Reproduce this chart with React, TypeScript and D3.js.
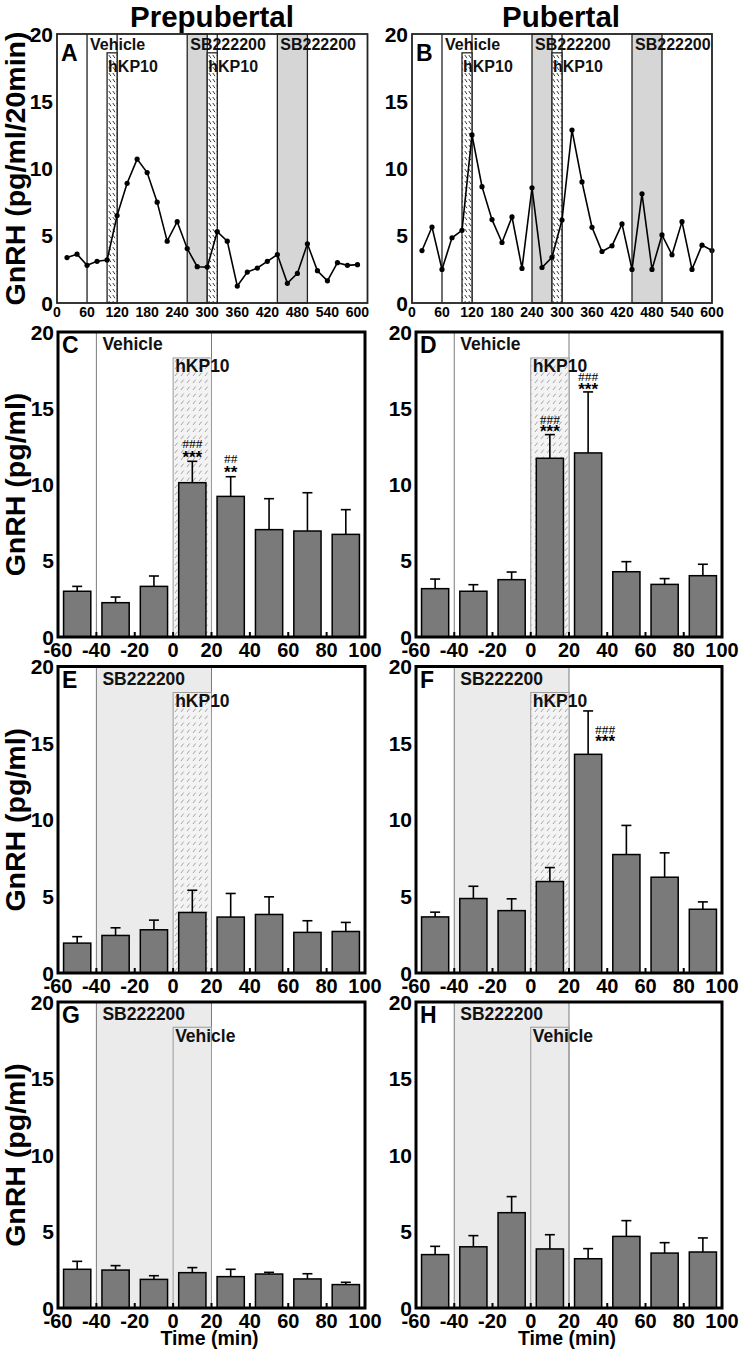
import React from 'react';
import * as d3 from 'd3';

const FONT = '"Liberation Sans", Arial, Helvetica, sans-serif';
const SERIF = '"Liberation Serif", "Times New Roman", serif';

// ---------- Panels A / B: 20-min pulse profiles ----------
const pulseTimes = [20, 40, 60, 80, 100, 120, 140, 160, 180, 200, 220, 240, 260, 280, 300, 320, 340, 360, 380, 400, 420, 440, 460, 480, 500, 520, 540, 560, 580, 600];
const prepubertalPulse = [3.38, 3.63, 2.8, 3.1, 3.2, 6.5, 8.9, 10.7, 9.7, 7.5, 4.6, 6.05, 4.05, 2.7, 2.67, 5.3, 4.6, 1.26, 2.3, 2.6, 3.1, 3.6, 1.46, 2.2, 4.4, 2.4, 1.65, 3.0, 2.8, 2.85];
const pubertalPulse = [3.9, 5.65, 2.5, 4.85, 5.4, 12.5, 8.65, 6.2, 4.5, 6.4, 2.57, 8.57, 2.64, 3.4, 6.17, 12.86, 9.0, 5.63, 3.83, 4.25, 5.88, 2.5, 8.12, 2.5, 5.06, 3.58, 6.05, 2.5, 4.3, 3.9];
const pulseTicks = [0, 60, 120, 180, 240, 300, 360, 420, 480, 540, 600];

const prepubertalShades = [[260, 300], [440, 500]];
const prepubertalHatches = [[100, 120], [300, 320]];
const prepubertalLines = [60, 120, 320];
const prepubertalLabels = [
  { text: 'Vehicle', at: 60, row: 0 },
  { text: 'hKP10', at: 100, row: 1 },
  { text: 'SB222200', at: 260, row: 0 },
  { text: 'hKP10', at: 300, row: 1 },
  { text: 'SB222200', at: 440, row: 0 },
];

const pubertalShades = [[240, 280], [440, 500]];
const pubertalHatches = [[100, 120], [280, 300]];
const pubertalLines = [60, 120, 300];
const pubertalLabels = [
  { text: 'Vehicle', at: 60, row: 0 },
  { text: 'hKP10', at: 100, row: 1 },
  { text: 'SB222200', at: 240, row: 0 },
  { text: 'hKP10', at: 280, row: 1 },
  { text: 'SB222200', at: 440, row: 0 },
];

// ---------- Panels C-H: 20-min bins around treatment ----------
const binCenters = [-50, -30, -10, 10, 30, 50, 70, 90];
const binTicks = [-60, -40, -20, 0, 20, 40, 60, 80, 100];
const innerTicks = [-40, -20, 0, 20, 40, 60, 80];
const yTicks = [0, 5, 10, 15, 20];

const cMean = [3.0, 2.25, 3.32, 10.12, 9.22, 7.04, 6.95, 6.73];
const cTop = [3.32, 2.62, 4.0, 11.52, 10.51, 9.07, 9.46, 8.35];
const dMean = [3.17, 3.0, 3.76, 11.72, 12.07, 4.28, 3.45, 4.02];
const dTop = [3.8, 3.43, 4.26, 13.27, 16.07, 4.94, 3.83, 4.77];
const eMean = [1.95, 2.45, 2.82, 3.95, 3.65, 3.82, 2.65, 2.71];
const eTop = [2.37, 2.95, 3.45, 5.4, 5.19, 4.97, 3.41, 3.3];
const fMean = [3.66, 4.86, 4.07, 5.97, 14.27, 7.73, 6.25, 4.16];
const fTop = [3.97, 5.66, 4.84, 6.88, 17.1, 9.63, 7.84, 4.64];
const gMean = [2.53, 2.48, 1.87, 2.31, 2.05, 2.22, 1.9, 1.53];
const gTop = [3.05, 2.77, 2.11, 2.64, 2.53, 2.33, 2.24, 1.68];
const hMean = [3.49, 4.0, 6.23, 3.86, 3.22, 4.68, 3.59, 3.66];
const hTop = [4.03, 4.73, 7.28, 4.79, 3.88, 5.71, 4.27, 4.58];

const cMarks = [
  { bin: 10, hash: '###', star: '***', hashY: 12.68, starY: 12.02, dx: 0 },
  { bin: 30, hash: '##', star: '**', hashY: 11.67, starY: 11.1, dx: 0 },
];
const dMarks = [
  { bin: 10, hash: '###', star: '***', hashY: 14.25, starY: 13.73, dx: 0 },
  { bin: 30, hash: '###', star: '***', hashY: 17.1, starY: 16.5, dx: 0 },
];
const fMarks = [
  { bin: 30, hash: '###', star: '***', hashY: 15.9, starY: 15.36, dx: 17 },
];

type Region = { kind: 'vehicle' | 'sb'; from: number; to: number; label: string };
type Box = { kind: 'hatch' | 'plain'; from: number; to: number; top: number; label: string };

function PulsePanel(props: any) {
  const { x0, x1, top, bottom, xMax, values, letter, shades, hatches, lines, labels, yTitle } = props;
  const x = d3.scaleLinear().domain([0, xMax]).range([x0, x1]);
  const y = d3.scaleLinear().domain([0, 20]).range([bottom, top]);
  const line = d3.line<number>().x((_, i) => x(pulseTimes[i])).y((v) => y(v));
  return (
    <g>
      <rect x={x0} y={top} width={x1 - x0} height={bottom - top} fill="#fff" />
      {shades.map((s: number[], i: number) => (
        <rect key={'s' + i} x={x(s[0])} y={top} width={x(s[1]) - x(s[0])} height={bottom - top} fill="#d6d6d6" stroke="#222" strokeWidth={1.3} />
      ))}
      {lines.map((l: number, i: number) => (
        <line key={'l' + i} x1={x(l)} x2={x(l)} y1={top} y2={bottom} stroke="#222" strokeWidth={1.3} />
      ))}
      {hatches.map((h: number[], i: number) => (
        <rect key={'h' + i} x={x(h[0])} y={y(18.6)} width={x(h[1]) - x(h[0])} height={bottom - y(18.6)} fill="url(#hatchDark)" stroke="#222" strokeWidth={1.3} />
      ))}
      {labels.map((lb: any, i: number) => (
        <text key={'t' + i} x={x(lb.at) + (lb.row === 0 ? 3 : 1)} y={lb.row === 0 ? top + 16 : top + 38} fontFamily={FONT} fontWeight="bold" fontSize={16} fill="#111">{lb.text}</text>
      ))}
      <path d={line(values) || ''} fill="none" stroke="#000" strokeWidth={1.6} />
      {values.map((v: number, i: number) => (
        <circle key={'c' + i} cx={x(pulseTimes[i])} cy={y(v)} r={2.6} fill="#000" />
      ))}
      <rect x={x0} y={top} width={x1 - x0} height={bottom - top} fill="none" stroke="#222" strokeWidth={1.8} />
      <text x={x0 + 4} y={top + 27} fontFamily={FONT} fontWeight="bold" fontSize={23}>{letter}</text>
      {yTicks.map((t) => (
        <text key={'y' + t} x={x0 - 4} y={y(t)} dy="0.36em" textAnchor="end" fontFamily={FONT} fontWeight="bold" fontSize={21}>{t}</text>
      ))}
      {pulseTicks.map((t) => (
        <text key={'x' + t} x={x(t)} y={bottom + 14} textAnchor="middle" fontFamily={FONT} fontWeight="bold" fontSize={14}>{t}</text>
      ))}
      {yTitle && (
        <text transform={`translate(25,${(top + bottom) / 2}) rotate(-90)`} textAnchor="middle" fontFamily={FONT} fontWeight="bold" fontSize={28.5}>{yTitle}</text>
      )}
    </g>
  );
}

function BarPanel(props: any) {
  const { x0, x1, top, bottom, mean, upper, letter, region, box, marks, yTitle, xTitle } = props;
  const x = d3.scaleLinear().domain([-60, 100]).range([x0, x1]);
  const y = d3.scaleLinear().domain([0, 20]).range([bottom, top]);
  const half = 7.1;
  const reg: Region = region;
  const bx: Box = box;
  return (
    <g>
      <rect x={x0} y={top} width={x1 - x0} height={bottom - top} fill="#fff" />
      {reg.kind === 'sb' && (
        <rect x={x(reg.from)} y={top} width={x(reg.to) - x(reg.from)} height={bottom - top} fill="#ebebeb" />
      )}
      <line x1={x(reg.from)} x2={x(reg.from)} y1={top} y2={bottom} stroke="#7a7a7a" strokeWidth={1} />
      <line x1={x(reg.to)} x2={x(reg.to)} y1={top} y2={bottom} stroke="#7a7a7a" strokeWidth={1} />
      <rect x={x(bx.from)} y={y(bx.top)} width={x(bx.to) - x(bx.from)} height={bottom - y(bx.top)}
        fill={bx.kind === 'hatch' ? 'url(#hatchLight)' : 'none'} stroke="#9a9a9a" strokeWidth={1} />
      <text x={x(reg.from) + 6} y={top + 18} fontFamily={FONT} fontWeight="bold" fontSize={17.5} fill="#111">{reg.label}</text>
      <text x={x(bx.from) + 2} y={top + 40} fontFamily={FONT} fontWeight="bold" fontSize={17.5} fill="#111">{bx.label}</text>
      {binCenters.map((c, i) => (
        <g key={'b' + i}>
          <line x1={x(c)} x2={x(c)} y1={y(mean[i])} y2={y(upper[i])} stroke="#000" strokeWidth={1.6} />
          <line x1={x(c) - 5} x2={x(c) + 5} y1={y(upper[i])} y2={y(upper[i])} stroke="#000" strokeWidth={1.6} />
          <rect x={x(c - half)} y={y(mean[i])} width={x(c + half) - x(c - half)} height={bottom - y(mean[i])} fill="#7a7a7a" stroke="#000" strokeWidth={1.5} />
        </g>
      ))}
      {marks.map((m: any, i: number) => (
        <g key={'m' + i}>
          <text x={x(m.bin) + m.dx} y={y(m.hashY) + 4.4} textAnchor="middle" fontFamily={SERIF} fontSize={13.5} fill="#000">{m.hash}</text>
          <text x={x(m.bin) + m.dx} y={y(m.starY) + 9.8} textAnchor="middle" fontFamily={FONT} fontWeight="bold" fontSize={17} fill="#000">{m.star}</text>
        </g>
      ))}
      {innerTicks.map((t) => (
        <line key={'it' + t} x1={x(t)} x2={x(t)} y1={bottom} y2={bottom - 5} stroke="#000" strokeWidth={2} />
      ))}
      <rect x={x0} y={top} width={x1 - x0} height={bottom - top} fill="none" stroke="#000" strokeWidth={3} />
      <text x={x0 + 4} y={top + 21} fontFamily={FONT} fontWeight="bold" fontSize={23}>{letter}</text>
      {yTicks.map((t) => (
        <text key={'y' + t} x={x0 - 4} y={y(t)} dy="0.36em" textAnchor="end" fontFamily={FONT} fontWeight="bold" fontSize={21}>{t}</text>
      ))}
      {binTicks.map((t) => (
        <text key={'x' + t} x={x(t)} y={bottom + 20} textAnchor="middle" fontFamily={FONT} fontWeight="bold" fontSize={20}>{t}</text>
      ))}
      {yTitle && (
        <text transform={`translate(25,${(top + bottom) / 2}) rotate(-90)`} textAnchor="middle" fontFamily={FONT} fontWeight="bold" fontSize={28.5}>{yTitle}</text>
      )}
      {xTitle && (
        <text x={(x0 + x1) / 2 - 2} y={bottom + 37} textAnchor="middle" fontFamily={FONT} fontWeight="bold" fontSize={19.5}>{xTitle}</text>
      )}
    </g>
  );
}

export default function App() {
  const L = { x0: 58, x1: 365 };
  const R = { x0: 416, x1: 722 };
  const rowC = { top: 332, bottom: 637 };
  const rowE = { top: 666.5, bottom: 973 };
  const rowG = { top: 1002, bottom: 1308 };
  const vehicleRegion: Region = { kind: 'vehicle', from: -40, to: 20, label: 'Vehicle' };
  const sbRegion: Region = { kind: 'sb', from: -40, to: 20, label: 'SB222200' };
  const kpBox: Box = { kind: 'hatch', from: 0, to: 20, top: 18.3, label: 'hKP10' };
  const vehBox: Box = { kind: 'plain', from: 0, to: 20, top: 18.35, label: 'Vehicle' };
  return (
    <svg width={740} height={1361} style={{ position: 'absolute', left: 0, top: 0, background: '#fff' }}>
      <defs>
        <pattern id="hatchDark" patternUnits="userSpaceOnUse" width={4} height={6}>
          <rect width={4} height={6} fill="#fff" />
          <path d="M0.8,1 L3,4.2" stroke="#222" strokeWidth={0.9} />
        </pattern>
        <pattern id="hatchLight" patternUnits="userSpaceOnUse" width={6} height={7}>
          <rect width={6} height={7} fill="#f3f3f3" />
          <path d="M1,5 L3.6,1.6" stroke="#9a9a9a" strokeWidth={0.9} />
        </pattern>
      </defs>
      <rect width={740} height={1361} fill="#fff" />
      <text x={212} y={27} textAnchor="middle" fontFamily={FONT} fontWeight="bold" fontSize={29.5}>Prepubertal</text>
      <text x={561} y={27} textAnchor="middle" fontFamily={FONT} fontWeight="bold" fontSize={29.5}>Pubertal</text>

      <PulsePanel x0={57} x1={367.5} top={34} bottom={303} xMax={620} values={prepubertalPulse} letter="A"
        shades={prepubertalShades} hatches={prepubertalHatches} lines={prepubertalLines} labels={prepubertalLabels}
        yTitle="GnRH (pg/ml/20min)" />
      <PulsePanel x0={412} x1={712} top={34} bottom={303} xMax={600} values={pubertalPulse} letter="B"
        shades={pubertalShades} hatches={pubertalHatches} lines={pubertalLines} labels={pubertalLabels} />

      <BarPanel {...L} {...rowC} mean={cMean} upper={cTop} letter="C" region={vehicleRegion} box={kpBox} marks={cMarks} yTitle="GnRH (pg/ml)" />
      <BarPanel {...R} {...rowC} mean={dMean} upper={dTop} letter="D" region={vehicleRegion} box={kpBox} marks={dMarks} />
      <BarPanel {...L} {...rowE} mean={eMean} upper={eTop} letter="E" region={sbRegion} box={kpBox} marks={[]} yTitle="GnRH (pg/ml)" />
      <BarPanel {...R} {...rowE} mean={fMean} upper={fTop} letter="F" region={sbRegion} box={kpBox} marks={fMarks} />
      <BarPanel {...L} {...rowG} mean={gMean} upper={gTop} letter="G" region={sbRegion} box={vehBox} marks={[]} yTitle="GnRH (pg/ml)" xTitle="Time (min)" />
      <BarPanel {...R} {...rowG} mean={hMean} upper={hTop} letter="H" region={sbRegion} box={vehBox} marks={[]} xTitle="Time (min)" />
    </svg>
  );
}
